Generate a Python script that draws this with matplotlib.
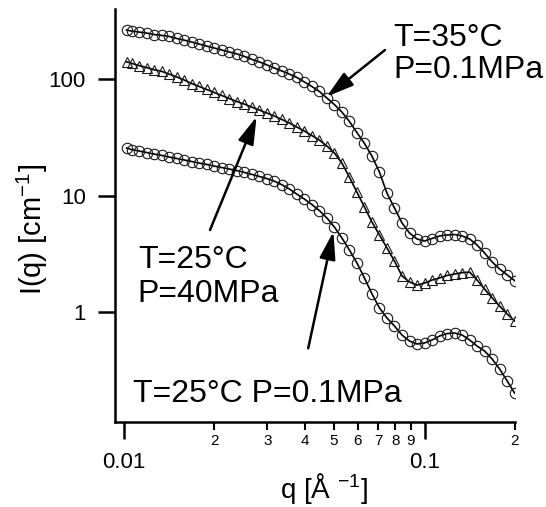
import matplotlib
matplotlib.use('Agg')
import matplotlib.pyplot as plt
from matplotlib.ticker import FixedLocator, FixedFormatter, NullLocator

plt.rcParams['font.family'] = ['Liberation Sans', 'DejaVu Sans']
plt.rcParams['mathtext.fontset'] = 'custom'
plt.rcParams['mathtext.rm'] = 'Liberation Sans'
plt.rcParams['mathtext.it'] = 'Liberation Sans:italic'

# scattering vector q [1/A], shared by the three curves
q = [0.0102, 0.01059, 0.01122, 0.01189, 0.01259, 0.01334, 0.01413, 0.01496,
     0.01585, 0.01679, 0.01778, 0.01884, 0.01995, 0.02113, 0.02239, 0.02371,
     0.02512, 0.02661, 0.02818, 0.02985, 0.03162, 0.03350, 0.03548, 0.03758,
     0.03981, 0.04217, 0.04467, 0.04732, 0.05012, 0.05309, 0.05623, 0.05957,
     0.06310, 0.06683, 0.07079, 0.07499, 0.07943, 0.08414, 0.08913, 0.09441,
     0.1000, 0.1059, 0.1122, 0.1189, 0.1259, 0.1334, 0.1413, 0.1496,
     0.1585, 0.1679, 0.1778, 0.1884, 0.1995]

# T=35C, P=0.1MPa
I_35 = [262, 257, 252, 247, 240, 236, 231, 222, 215, 207, 199, 191, 184, 177,
        170, 164, 156, 147, 140, 132, 124, 117, 110, 103, 94.1, 86.1, 78.0,
        68.6, 60.3, 52.0, 43.2, 34.7, 28.0, 21.8, 15.9, 10.5, 7.83, 5.83, 4.78,
        4.25, 4.08, 4.29, 4.51, 4.60, 4.64, 4.51, 4.25, 3.77, 3.22, 2.70, 2.35,
        2.09, 1.87]

# T=25C, P=40MPa
I_40 = [140, 136, 130, 125, 120, 116, 110, 104, 97.9, 91.3, 86.1, 81.2, 76.5,
        72.1, 67.9, 64.0, 60.9, 57.4, 54.1, 51.0, 48.1, 44.9, 41.9, 38.7, 35.8,
        32.7, 29.9, 26.6, 23.2, 19.0, 14.4, 10.7, 7.99, 5.94, 4.60, 3.56, 2.75,
        2.05, 1.82, 1.71, 1.78, 1.89, 1.97, 2.07, 2.13, 2.19, 2.21, 1.89, 1.58,
        1.33, 1.13, 0.967, 0.842]

# T=25C, P=0.1MPa
I_25 = [25.6, 24.8, 24.1, 23.4, 22.7, 22.1, 21.4, 20.8, 20.2, 19.6, 19.0, 18.5,
        17.9, 17.4, 16.9, 16.4, 15.8, 15.2, 14.6, 14.0, 13.3, 12.4, 11.4, 10.3,
        9.35, 8.39, 7.45, 6.43, 5.38, 4.33, 3.42, 2.65, 1.97, 1.44, 1.09, 0.894,
        0.763, 0.639, 0.567, 0.535, 0.546, 0.579, 0.626, 0.658, 0.665, 0.639,
        0.579, 0.514, 0.466, 0.398, 0.327, 0.258, 0.203]

x_major = [0.01, 0.1]
x_major_labels = ['0.01', '0.1']
x_minor = [0.02, 0.03, 0.04, 0.05, 0.06, 0.07, 0.08, 0.09, 0.2]
x_minor_labels = ['2', '3', '4', '5', '6', '7', '8', '9', '2']
y_major = [1, 10, 100]
y_major_labels = ['1', '10', '100']

fig = plt.figure(figsize=(5.46, 5.07), dpi=100)
ax = fig.add_axes([0.2106, 0.1682, 0.7326, 0.8135])
ax.set_xscale('log')
ax.set_yscale('log')

mk = dict(color='black', lw=1.2, mfc='none', mec='#1a1a1a', mew=0.8)
ax.plot(q, I_35, marker='o', ms=7.5, **mk)
ax.plot(q, I_40, marker='^', ms=7.5, **mk)
ax.plot(q, I_25, marker='o', ms=7.5, **mk)

ax.set_xlim(0.00933, 0.2)
ax.set_ylim(0.1155, 395)

ax.xaxis.set_major_locator(FixedLocator(x_major))
ax.xaxis.set_major_formatter(FixedFormatter(x_major_labels))
ax.xaxis.set_minor_locator(FixedLocator(x_minor))
ax.xaxis.set_minor_formatter(FixedFormatter(x_minor_labels))
ax.yaxis.set_major_locator(FixedLocator(y_major))
ax.yaxis.set_major_formatter(FixedFormatter(y_major_labels))
ax.yaxis.set_minor_locator(NullLocator())

ax.tick_params(axis='x', which='major', length=12, width=1.8, pad=10, labelsize=16)
ax.tick_params(axis='x', which='minor', length=6, width=1.5, pad=3, labelsize=11)
ax.tick_params(axis='y', which='major', length=12, width=1.8, pad=9, labelsize=16)

for s in ['top', 'right']:
    ax.spines[s].set_visible(False)
for s in ['left', 'bottom']:
    ax.spines[s].set_linewidth(1.8)

ax.set_ylabel('I(q) [cm$^{-1}$]', fontsize=21)
ax.yaxis.label.set_va('center')
ax.yaxis.label.set_rotation_mode('default')
ax.yaxis.set_label_coords(-0.2075, 0.465)
ax.set_xlabel('q [Å $^{-1}$]', fontsize=20)
ax.xaxis.label.set_va('center')
ax.xaxis.set_label_coords(0.5225, -0.163)

# annotations
fs = 23
ax.text(0.695, 0.9117, 'T=35°C', transform=ax.transAxes, fontsize=fs, va='baseline')
ax.text(0.695, 0.8341, 'P=0.1MPa', transform=ax.transAxes, fontsize=fs, va='baseline')
ax.text(0.058, 0.3727, 'T=25°C', transform=ax.transAxes, fontsize=fs, va='baseline')
ax.text(0.055, 0.291, 'P=40MPa', transform=ax.transAxes, fontsize=fs, va='baseline')
ax.text(0.044, 0.0485, 'T=25°C P=0.1MPa', transform=ax.transAxes, fontsize=fs, va='baseline')

arr = dict(arrowstyle='-|>,head_length=1.2,head_width=0.35', mutation_scale=14,
           lw=1.8, color='black', shrinkA=0, shrinkB=0)
ax.annotate('', xy=(0.529, 0.788), xytext=(0.675, 0.9013),
            xycoords='axes fraction', textcoords='axes fraction', arrowprops=arr)
ax.annotate('', xy=(0.354, 0.7396), xytext=(0.2375, 0.4648),
            xycoords='axes fraction', textcoords='axes fraction', arrowprops=arr)
ax.annotate('', xy=(0.546, 0.4607), xytext=(0.483, 0.178),
            xycoords='axes fraction', textcoords='axes fraction', arrowprops=arr)

fig.savefig('out.png', dpi=100)
